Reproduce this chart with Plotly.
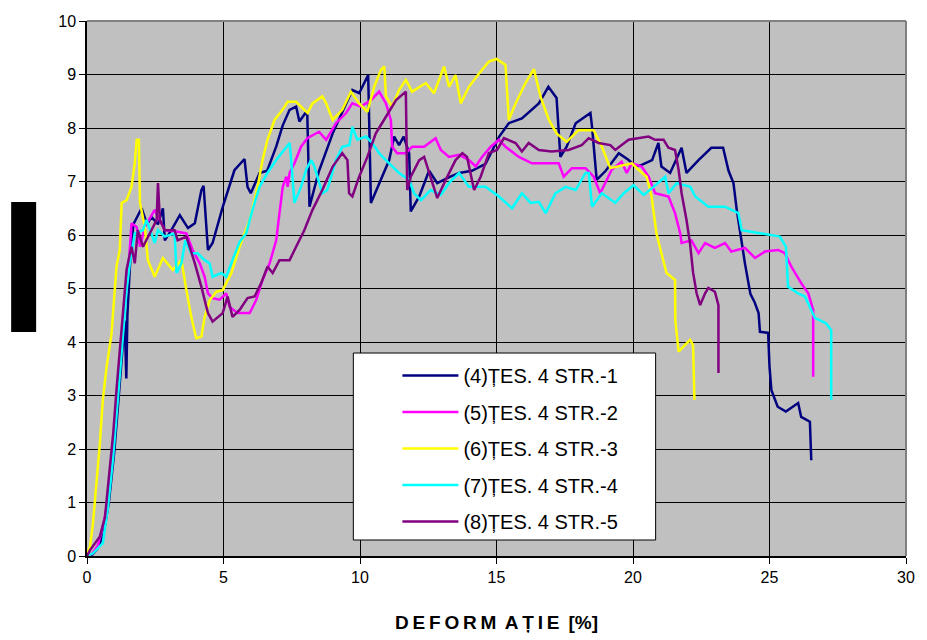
import plotly.graph_objects as go

# ---- data (strain %, force) ----
names = ["(4)ȚES. 4 STR.-1", "(5)ȚES. 4 STR.-2", "(6)ȚES. 4 STR.-3",
         "(7)ȚES. 4 STR.-4", "(8)ȚES. 4 STR.-5"]
colors = ["#000080", "#FF00FF", "#FFFF00", "#00FFFF", "#800080"]

x1 = [0, 0.2, 0.4, 0.6, 0.8, 1.0, 1.15, 1.3, 1.38, 1.44, 1.48, 1.57, 1.7, 2.0, 2.2, 2.36, 2.6, 2.78, 2.85,
      3.1, 3.4, 3.7, 3.95, 4.19, 4.27, 4.43, 4.6, 4.97, 5.4, 5.77, 5.88, 6.0, 6.32, 6.6, 6.93, 7.17, 7.42,
      7.66, 7.78, 8.0, 8.07, 8.15, 8.5, 9.0, 9.35, 9.72, 9.97, 10.16, 10.3, 10.4, 10.7, 11.07, 11.25, 11.43,
      11.6, 11.8, 11.86, 12.17, 12.53, 12.83, 13.27, 13.63, 14.1, 14.6, 15.1, 15.45, 15.93, 16.55, 16.9,
      17.2, 17.34, 17.57, 17.9, 18.44, 18.5, 18.67, 19.0, 19.48, 19.84, 20.1, 20.32, 20.7, 20.93, 21.04,
      21.36, 21.78, 21.96, 22.4, 22.87, 23.3, 23.5, 23.68, 23.8, 23.97, 24.1, 24.3, 24.45, 24.6, 24.65,
      24.95, 25.0, 25.07, 25.3, 25.6, 26.05, 26.16, 26.48, 26.53]
y1 = [0, 0.03, 0.15, 0.4, 1.0, 1.95, 2.9, 3.9, 4.4, 3.32, 4.5, 5.4, 6.2, 6.5, 6.2, 6.34, 6.2, 6.5, 5.9,
      6.1, 6.37, 6.13, 6.22, 6.84, 6.92, 5.72, 5.85, 6.52, 7.21, 7.42, 6.9, 6.78, 7.16, 7.2, 7.65, 8.05, 8.34,
      8.4, 8.12, 8.28, 8.24, 6.53, 7.2, 7.9, 8.28, 8.71, 8.65, 8.84, 8.99, 6.6, 6.97, 7.4, 7.84, 7.68,
      7.84, 7.53, 6.44, 6.72, 7.2, 6.97, 7.08, 7.16, 7.2, 7.33, 7.84, 8.09, 8.18, 8.46, 8.77,
      8.56, 7.46, 7.65, 8.09, 8.28, 8.02, 7.03, 7.2, 7.53, 7.4, 7.28, 7.31, 7.4, 7.72, 7.28,
      7.16, 7.63, 7.16, 7.4, 7.63, 7.63, 7.2, 6.97, 6.47, 5.85, 5.47, 4.9, 4.75, 4.54, 4.19,
      4.17, 3.54, 3.1, 2.79, 2.7, 2.86, 2.6, 2.51, 1.79]

x2 = [0, 0.2, 0.4, 0.6, 0.75, 0.93, 1.12, 1.27, 1.45, 1.55, 1.63, 1.82, 1.94, 2.12, 2.48, 2.85, 3.32, 3.64,
      3.87, 4.13, 4.31, 4.43, 4.6, 4.86, 5.1, 5.22, 5.52, 5.96, 6.2, 6.43, 6.69, 6.93, 7.05, 7.17, 7.3, 7.35,
      7.42, 7.6, 7.84, 8.07, 8.5, 8.76, 9.12, 9.49, 9.72, 10.03, 10.4, 10.7, 10.95, 11.13, 11.18, 11.36,
      11.68, 11.91, 12.35, 12.77, 12.96, 13.26, 13.63, 13.99, 14.24, 14.47, 14.79, 15.09, 15.33, 15.82,
      16.3, 16.8, 17.28, 17.46, 17.76, 18.26, 18.56, 18.8, 18.98, 19.22, 19.58, 19.77, 19.96, 20.32,
      20.57, 20.81, 21.3, 21.54, 21.73, 21.78, 22.14, 22.4, 22.64, 23.0, 23.37, 23.6, 24.1, 24.47, 24.83,
      25.32, 25.56, 25.8, 26.16, 26.42, 26.6, 26.6]
y2 = [0, 0.05, 0.2, 0.6, 1.0, 2.0, 3.0, 4.0, 5.0, 5.6, 6.22, 6.15, 5.78, 6.15, 6.47, 6.09, 6.06, 6.03,
      5.72, 5.47, 5.22, 4.91, 4.82, 4.79, 4.91, 4.66, 4.54, 4.54, 4.79, 5.16, 5.47, 5.9, 6.41, 6.9, 7.09, 6.9,
      7.16, 7.34, 7.65, 7.81, 7.93, 7.78, 8.09, 8.28, 8.46, 8.4, 8.52, 8.68, 8.46, 8.15, 7.65, 7.53,
      7.53, 7.65, 7.65, 7.81, 7.59, 7.46, 7.5, 7.4, 7.28, 7.46, 7.65, 7.78, 7.65, 7.46,
      7.34, 7.34, 7.34, 7.09, 7.25, 7.25, 7.09, 6.78, 6.97, 7.22, 7.37, 7.16, 7.34, 7.28,
      7.09, 6.78, 6.72, 6.41, 6.03, 5.85, 5.9, 5.66, 5.85, 5.76, 5.85, 5.69, 5.76, 5.57, 5.69,
      5.72, 5.66, 5.41, 5.1, 4.91, 4.6, 3.35]

x3 = [0, 0.11, 0.22, 0.35, 0.47, 0.58, 0.72, 0.9, 1.02, 1.08, 1.2, 1.27, 1.45, 1.63, 1.75, 1.82, 1.9, 1.94,
      2.12, 2.23, 2.48, 2.78, 3.14, 3.46, 3.64, 3.82, 4.0, 4.19, 4.31, 4.49, 4.74, 4.97, 5.29, 5.59, 5.96,
      6.25, 6.43, 6.61, 6.87, 7.16, 7.35, 7.66, 7.96, 8.08, 8.26, 8.62, 8.76, 9.0, 9.35, 9.67, 9.97, 10.27,
      10.52, 10.76, 10.89, 10.95, 11.18, 11.43, 11.68, 11.91, 12.41, 12.71, 13.08, 13.26, 13.5, 13.69,
      13.99, 14.36, 14.72, 15.0, 15.33, 15.45, 15.7, 16.06, 16.37, 16.61, 16.92, 17.2, 17.57, 18.0, 18.56,
      18.86, 19.17, 19.96, 20.2, 20.5, 20.68, 20.86, 21.04, 21.23, 21.54, 21.55, 21.67, 22.09, 22.2, 22.25]
y3 = [0.05, 0.17, 0.62, 1.36, 2.1, 2.92, 3.54, 4.16, 4.9, 5.41, 5.72, 6.6, 6.65, 6.9, 7.34, 7.78, 7.78, 6.6,
      6.15, 5.53, 5.22, 5.57, 5.35, 5.53, 4.97, 4.47, 4.07, 4.1, 4.47, 4.78, 4.94, 4.97, 5.29, 5.78, 6.28,
      6.9, 7.4, 7.78, 8.15, 8.34, 8.49, 8.49, 8.34, 8.28, 8.46, 8.59, 8.46, 8.15, 8.34, 8.68, 8.46, 8.3,
      8.77, 9.08, 9.15, 8.59, 8.4, 8.71, 8.9, 8.68, 8.84, 8.65, 9.15, 8.77, 8.99, 8.46,
      8.77, 9.02, 9.24, 9.29, 9.18, 8.15, 8.46, 8.84, 9.1, 8.59, 8.15, 7.9, 7.74, 7.96, 7.96,
      7.65, 7.25, 7.34, 7.22, 7.09, 6.72, 6.03, 5.66, 5.29, 5.16, 4.41, 3.82, 4.04, 3.94, 2.92]

x4 = [0, 0.22, 0.58, 0.77, 0.96, 1.08, 1.2, 1.33, 1.45, 1.57, 1.75, 2.05, 2.18, 2.48, 2.6, 2.85, 3.21, 3.28,
      3.46, 3.6, 3.82, 4.05, 4.31, 4.49, 4.6, 4.92, 5.1, 5.33, 5.59, 5.83, 6.06, 6.32, 6.61, 6.93, 7.3, 7.42,
      7.48, 7.6, 7.84, 8.03, 8.21, 8.33, 8.62, 8.8, 9.12, 9.35, 9.61, 9.72, 9.9, 10.22, 10.45, 10.7, 11.07,
      11.43, 11.8, 11.98, 12.23, 12.59, 12.96, 13.26, 13.63, 13.99, 14.6, 15.09, 15.57, 15.93, 16.25, 16.55,
      16.8, 17.16, 17.53, 17.9, 18.26, 18.38, 18.5, 18.86, 19.35, 19.66, 20.02, 20.39, 20.75, 21.18, 21.3,
      21.6, 22.1, 22.28, 22.76, 23.37, 23.86, 23.98, 24.33, 24.95, 25.38, 25.6, 25.68, 26.05, 26.3, 26.66,
      27.07, 27.26, 27.26]
y4 = [0, 0.05, 0.24, 0.92, 1.86, 2.6, 3.35, 4.16, 4.97, 5.47, 6.03, 6.09, 6.28, 5.85, 6.09, 5.97, 6.03, 5.29,
      5.47, 5.9, 5.66, 5.66, 5.53, 5.47, 5.22, 5.29, 5.22, 5.53, 5.87, 6.03, 6.47, 6.9, 7.16, 7.4, 7.65, 7.72,
      7.4, 6.6, 6.9, 7.22, 7.4, 7.28, 6.78, 6.84, 7.4, 7.65, 7.68, 8.02, 7.78, 7.84, 7.72, 7.53, 7.34,
      7.16, 7.03, 6.78, 6.65, 6.84, 6.75, 6.97, 7.16, 6.9, 6.9, 6.72, 6.5, 6.78, 6.6, 6.62,
      6.41, 6.78, 6.9, 6.84, 7.16, 7.16, 6.53, 6.78, 6.6, 6.78, 6.93, 6.75, 6.9, 7.09, 6.78,
      6.97, 6.9, 6.72, 6.53, 6.53, 6.41, 6.09, 6.06, 6.0, 5.97, 5.78, 5.03, 4.91, 4.85, 4.45,
      4.35, 4.22, 2.92]

x5 = [0, 0.11, 0.47, 0.66, 0.84, 0.96, 1.08, 1.2, 1.33, 1.45, 1.55, 1.63, 1.75, 1.86, 2.05, 2.3, 2.55, 2.6,
      2.67, 2.85, 3.21, 3.32, 3.64, 3.76, 3.95, 4.19, 4.43, 4.6, 4.97, 5.15, 5.33, 5.59, 5.88, 6.14, 6.38,
      6.61, 6.8, 7.05, 7.42, 7.66, 7.96, 8.26, 8.62, 9.0, 9.35, 9.54, 9.6, 9.72, 9.97, 10.27, 10.58, 10.95,
      11.32, 11.68, 11.73, 11.86, 12.17, 12.35, 12.59, 12.83, 13.14, 13.5, 13.75, 13.92, 14.18, 14.42,
      14.72, 15.02, 15.27, 15.7, 15.93, 16.18, 16.55, 17.02, 17.64, 18.12, 18.38, 18.74, 19.17, 19.35,
      19.84, 20.2, 20.57, 20.81, 21.12, 21.3, 21.54, 21.67, 21.78, 21.96, 22.09, 22.2, 22.33, 22.46, 22.64,
      22.76, 23.0, 23.13, 23.13]
y5 = [0, 0.11, 0.36, 0.73, 1.67, 2.29, 3.1, 3.85, 4.66, 5.35, 5.6, 5.78, 5.47, 6.09, 5.78, 6.03, 6.28, 6.97,
      6.28, 6.09, 6.09, 5.9, 5.97, 5.78, 5.47, 5.03, 4.54, 4.38, 4.54, 4.85, 4.47, 4.6, 4.82, 4.85, 5.1,
      5.41, 5.29, 5.53, 5.53, 5.78, 6.09, 6.47, 6.84, 7.28, 7.53, 7.4, 6.78, 6.72, 7.09, 7.46, 7.9, 8.21,
      8.52, 8.68, 6.84, 7.09, 7.4, 7.46, 7.09, 6.69, 7.03, 7.4, 7.53, 7.46, 6.84, 7.09,
      7.53, 7.59, 7.81, 7.72, 7.56, 7.72, 7.59, 7.56, 7.59, 7.68, 7.81, 7.72, 7.68, 7.59,
      7.78, 7.81, 7.84, 7.78, 7.78, 7.63, 7.59, 7.22, 6.78, 6.28, 5.84, 5.3, 4.91, 4.69, 4.91,
      5.01, 4.94, 4.69, 3.42]

xs = [x1, x2, x3, x4, x5]
ys = [y1, y2, y3, y4, y5]

x_ticks = [0, 5, 10, 15, 20, 25, 30]
y_ticks = [0, 1, 2, 3, 4, 5, 6, 7, 8, 9, 10]
x_title = "D\u2009E\u2009F\u2009O\u2009R\u2009M\u2009 A\u2009Ț\u2009I\u2009E\u2009 [%]"

FONT = "Arial, Liberation Sans, sans-serif"

fig = go.Figure()
for i in range(5):
    fig.add_trace(go.Scatter(
        x=xs[i], y=ys[i], mode="lines", name=names[i], legendgroup=f"g{i}",
        line=dict(color=colors[i], width=2.5)))

fig.update_layout(
    width=927, height=640,
    margin=dict(l=87, r=19, t=21, b=84),
    paper_bgcolor="white", plot_bgcolor="#C0C0C0",
    font=dict(family=FONT, size=16, color="black"),
    showlegend=True,
    legend=dict(x=0.379, y=0.374, xanchor="left", yanchor="top",
                bgcolor="rgba(0,0,0,0)", borderwidth=0, itemwidth=56,
                traceorder="grouped", tracegroupgap=7.5,
                font=dict(family=FONT, size=20, color="black")),
    xaxis=dict(range=[0, 30], tickvals=x_ticks, showgrid=True, gridcolor="black", gridwidth=1,
               showline=True, linecolor="black", linewidth=1.5, ticks="outside", ticklen=6,
               tickcolor="black", zeroline=False, fixedrange=True),
    yaxis=dict(range=[0, 10], tickvals=y_ticks, showgrid=True, gridcolor="black", gridwidth=1,
               showline=True, linecolor="black", linewidth=1.5, ticks="outside", ticklen=6,
               tickcolor="black", zeroline=False, fixedrange=True),
    shapes=[
        dict(type="line", xref="paper", yref="paper", x0=0, x1=1, y0=1, y1=1,
             line=dict(color="#808080", width=2)),
        dict(type="line", xref="paper", yref="paper", x0=1, x1=1, y0=0, y1=1,
             line=dict(color="#808080", width=2)),
        dict(type="rect", xref="paper", yref="paper", x0=0.3252, x1=0.6943, y0=0.0299, y1=0.3794,
             fillcolor="white", line=dict(color="black", width=1), layer="above"),
        dict(type="rect", xref="paper", yref="paper", x0=-0.0926, x1=-0.0621, y0=0.4187, y1=0.6617,
             fillcolor="black", line=dict(width=0), layer="above"),
    ],
    annotations=[
        dict(text=x_title, xref="paper", yref="paper", x=0.4994, y=-0.125,
             xanchor="center", yanchor="middle", showarrow=False,
             font=dict(family=FONT, size=19, color="black", weight="bold")),
    ],
)

fig.write_html("out.html")
